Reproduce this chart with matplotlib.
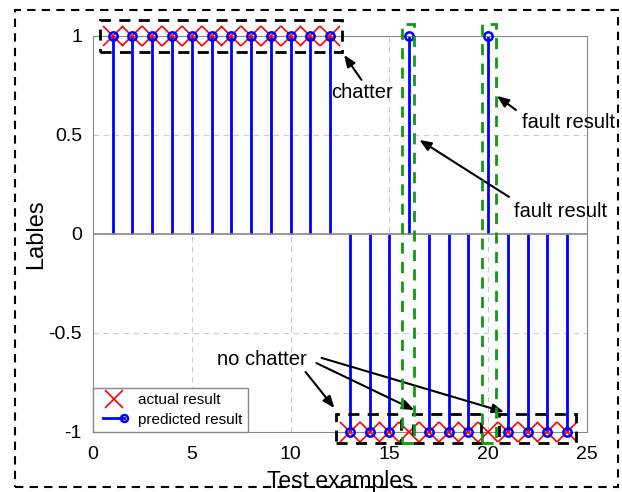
import matplotlib
matplotlib.use('Agg')
import matplotlib.pyplot as plt
import matplotlib.patches as patches
from matplotlib.lines import Line2D
from matplotlib.legend_handler import HandlerLine2D

plt.rcParams['font.family'] = ['Liberation Sans', 'DejaVu Sans']

# test samples and labels
samples = list(range(1, 25))
actual = [1] * 12 + [-1] * 12
predicted = [1] * 12 + [-1, -1, -1, 1, -1, -1, -1, 1, -1, -1, -1, -1]

x_ticks = [0, 5, 10, 15, 20, 25]
y_ticks = [-1, -0.5, 0, 0.5, 1]
y_ticklabels = ['-1', '-0.5', '0', '0.5', '1']


class EndMarkerHandler(HandlerLine2D):
    # line with the marker only at its right end
    def create_artists(self, legend, orig_handle, xdescent, ydescent,
                       width, height, fontsize, trans):
        arts = super().create_artists(legend, orig_handle, xdescent, ydescent,
                                      width, height, fontsize, trans)
        line = arts[-1]
        xd, yd = line.get_data()
        line.set_markevery([len(xd) - 1])
        return arts


fig = plt.figure(figsize=(6.22, 4.92), dpi=100)
ax = fig.add_axes([0.1495, 0.122, 0.794, 0.805])

# grid
for gx in x_ticks[1:-1]:
    ax.axvline(gx, color='#cccccc', ls=(0, (5, 4)), lw=0.8, zorder=0)
for gy in [-0.5, 0.5]:
    ax.axhline(gy, color='#cccccc', ls=(0, (5, 4)), lw=0.8, zorder=0)

# stems
ax.vlines(samples, 0, predicted, color='blue', lw=2, zorder=2)
ax.axhline(0, color='#888888', lw=1.2, zorder=2.5)
ax.plot(samples, actual, 'x', color='red', ms=15, mew=1.2, ls='none',
        clip_on=False, zorder=3)
ax.plot(samples, predicted, 'o', mfc='none', mec='blue', ms=6, mew=1.8,
        ls='none', clip_on=False, zorder=4)

ax.set_xlim(0, 25)
ax.set_ylim(-1, 1)
ax.set_xticks(x_ticks)
ax.set_yticks(y_ticks)
ax.set_yticklabels(y_ticklabels)
ax.tick_params(labelsize=14, length=0)
ax.tick_params(axis='x', pad=10)
ax.tick_params(axis='y', pad=8)
for s in ax.spines.values():
    s.set_color('#888888')
ax.set_xlabel('Test examples', fontsize=16.5, labelpad=5)
ax.set_ylabel('Lables', fontsize=17, labelpad=1)

# dashed boxes
def box(x0, x1, y0, y1, color):
    r = patches.Rectangle((x0, y0), x1 - x0, y1 - y0, fill=False, ec=color,
                          lw=2, ls=(0, (4, 3)), clip_on=False, zorder=5)
    ax.add_patch(r)

box(0.35, 12.6, 0.92, 1.08, 'black')
box(12.3, 15.6, -1.055, -0.91, 'black')
box(16.2, 19.65, -1.055, -0.91, 'black')
box(20.55, 24.45, -1.055, -0.91, 'black')
box(15.65, 16.25, -1.055, 1.06, '#119911')
box(19.7, 20.4, -1.055, 1.06, '#119911')

arrow = dict(arrowstyle='-|>,head_length=0.5,head_width=0.2', color='black',
             lw=1.5, mutation_scale=14, shrinkA=0, shrinkB=0)
fs = 14.5
ax.annotate('', xy=(12.71, 0.904), xytext=(13.59, 0.778), arrowprops=arrow)
ax.text(13.64, 0.712, 'chatter', fontsize=fs, ha='center', va='center')
ax.annotate('', xy=(20.45, 0.697), xytext=(21.41, 0.626), arrowprops=arrow)
ax.text(24.09, 0.561, 'fault result', fontsize=fs, ha='center', va='center')
ax.annotate('', xy=(16.52, 0.475), xytext=(21.06, 0.187), arrowprops=arrow)
ax.text(23.68, 0.111, 'fault result', fontsize=fs, ha='center', va='center')
ax.text(8.54, -0.636, 'no chatter', fontsize=fs, ha='center', va='center')
ax.annotate('', xy=(12.22, -0.879), xytext=(10.76, -0.697), arrowprops=arrow)
ax.annotate('', xy=(16.26, -0.889), xytext=(11.31, -0.652), arrowprops=arrow)
ax.annotate('', xy=(20.81, -0.899), xytext=(11.57, -0.626), arrowprops=arrow)

# legend
h_act = Line2D([], [], marker='x', color='red', ms=13, mew=1.2, ls='none')
h_pred = Line2D([], [], marker='o', color='blue', mfc='none', ms=5, mew=1.8,
                lw=2)
leg = ax.legend([h_act, h_pred], ['actual result', 'predicted result'],
                loc='lower left', fontsize=11, fancybox=False, framealpha=1,
                edgecolor='#888888', borderaxespad=0, handlelength=2.0,
                handletextpad=0.6,
                handler_map={h_pred: EndMarkerHandler(numpoints=2)},
                borderpad=0.35, labelspacing=0.35)
leg.set_zorder(6)

# outer dashed border
fig.add_artist(patches.Rectangle((15 / 622, 1 - 487 / 492), 603 / 622, 477 / 492,
                                 fill=False, ec='black', lw=1.5,
                                 ls=(0, (4, 3)), transform=fig.transFigure))

fig.savefig('out.png', dpi=100)
